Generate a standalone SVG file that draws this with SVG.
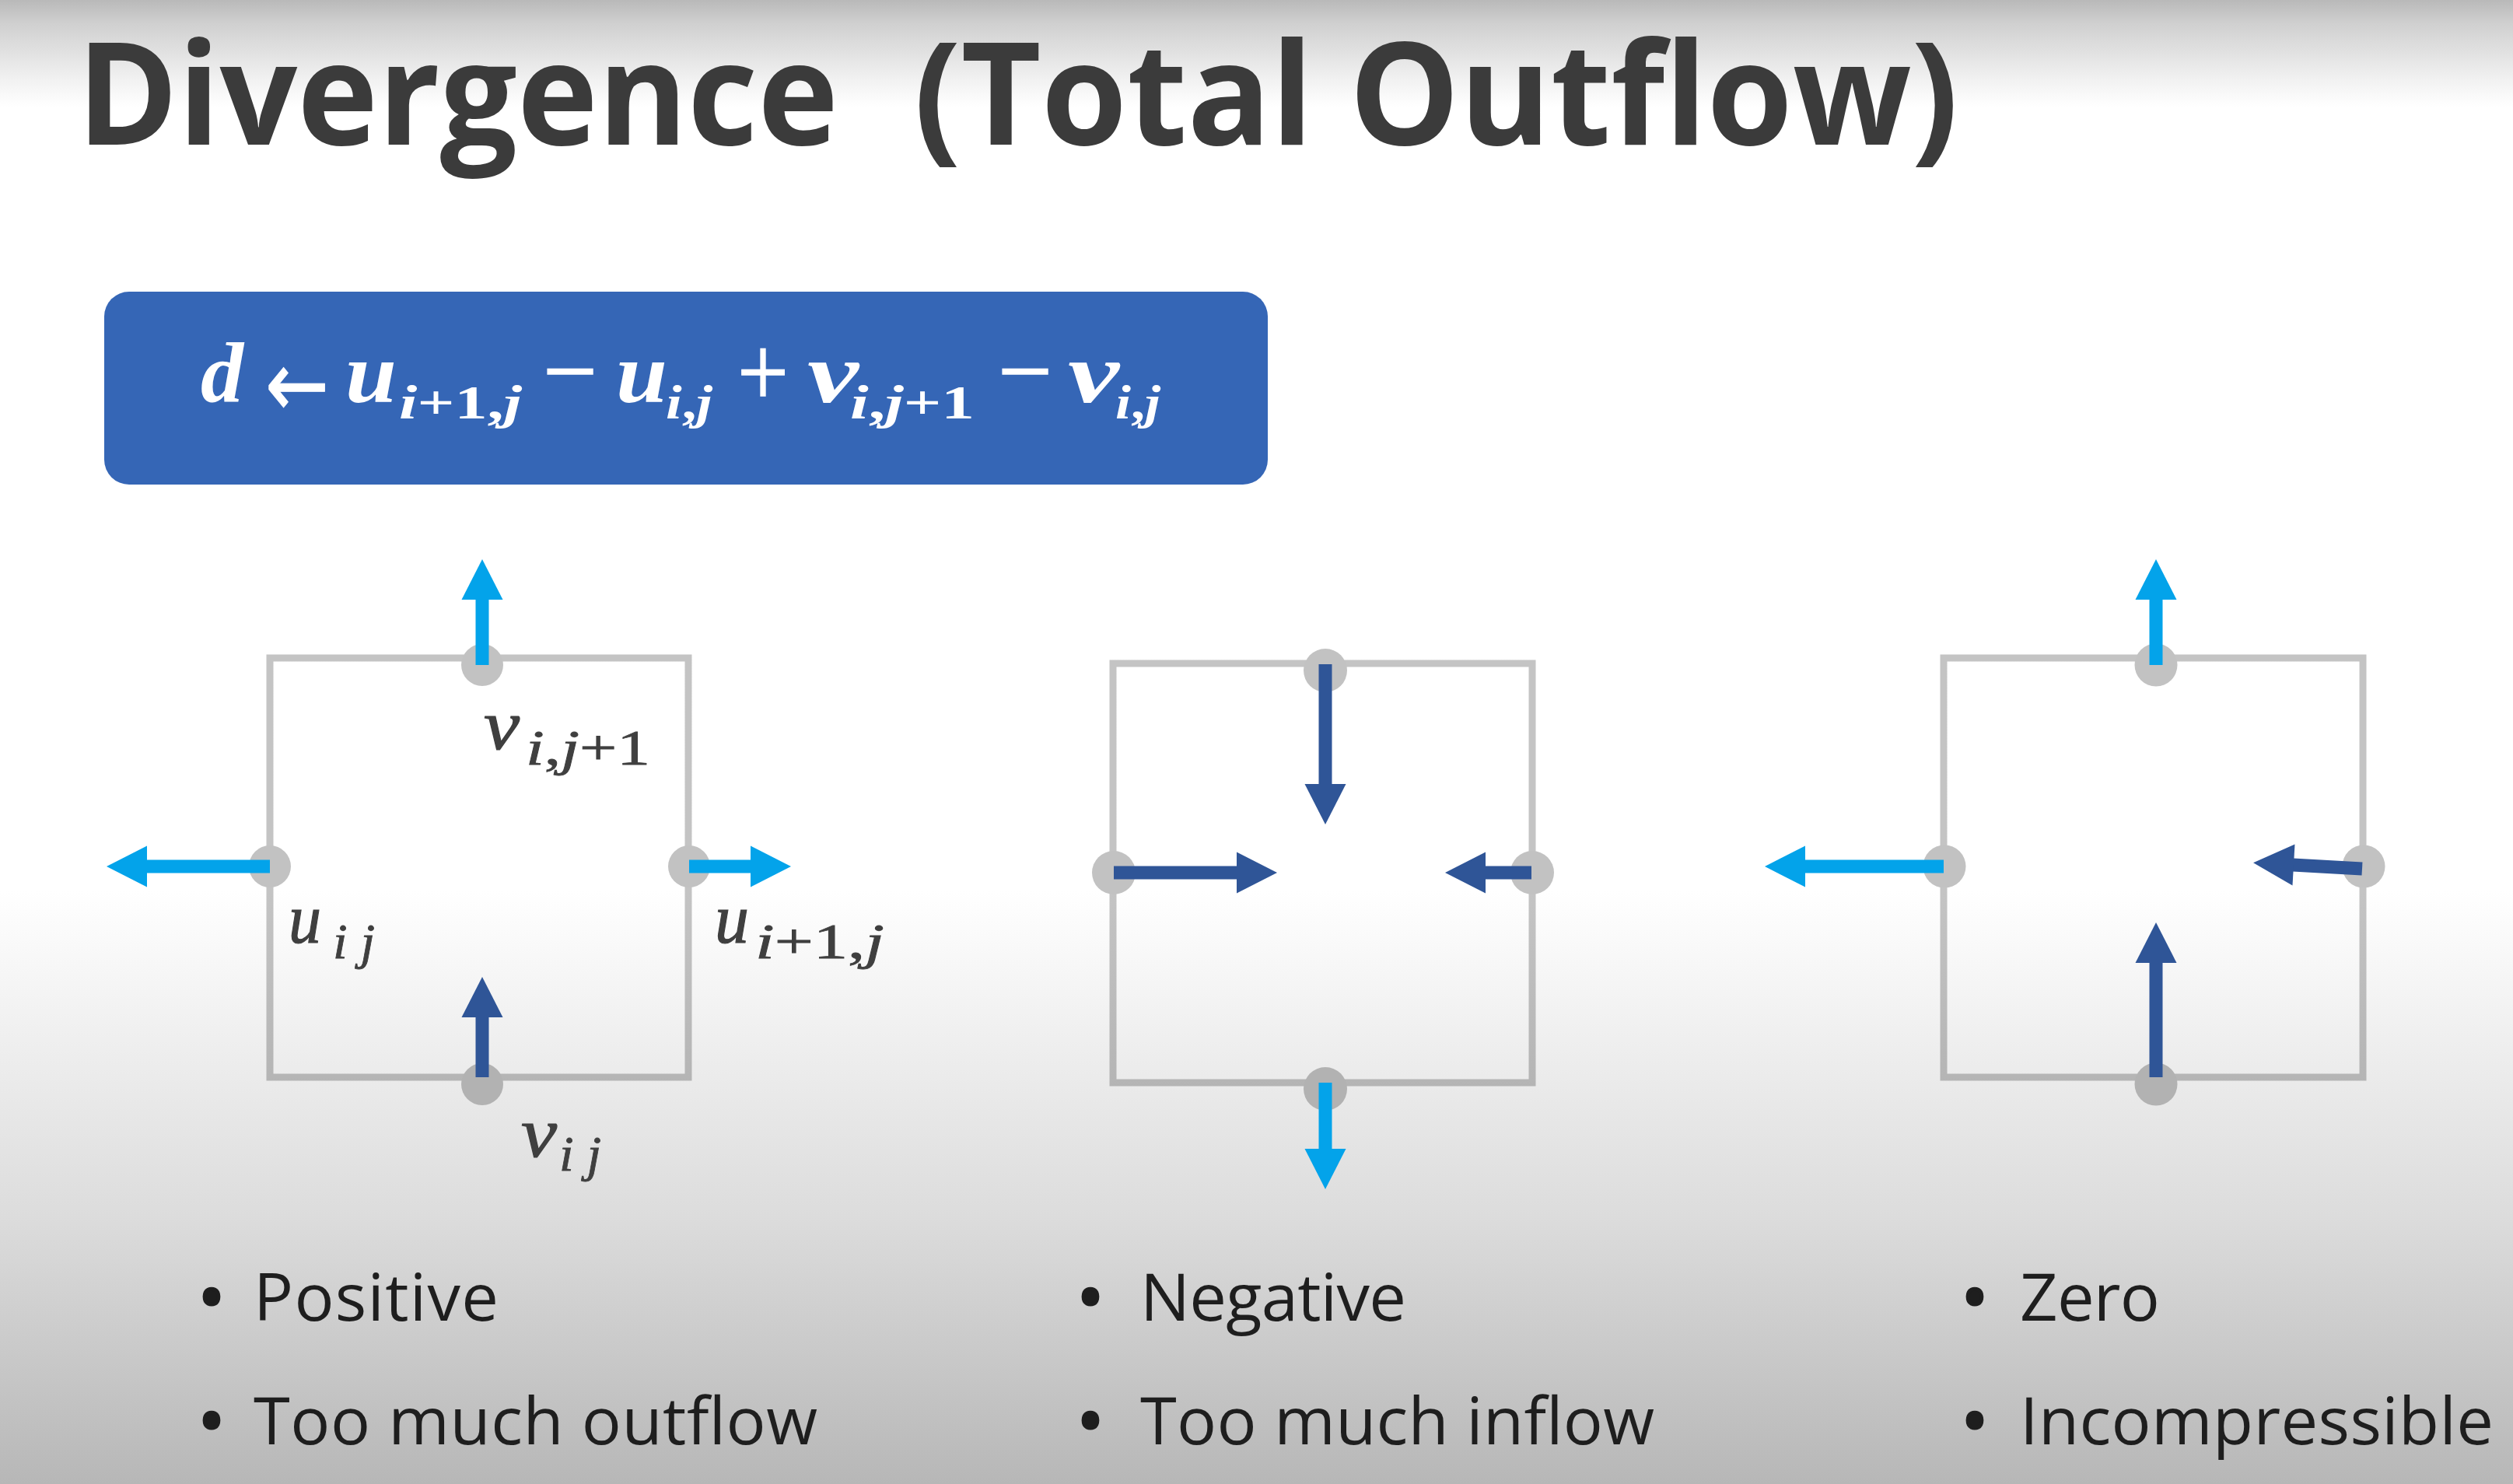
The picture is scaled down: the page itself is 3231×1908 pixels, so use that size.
<svg xmlns="http://www.w3.org/2000/svg" width="3231" height="1908" viewBox="0 0 3231 1908">
<defs>
<linearGradient id="bg" x1="0" y1="0" x2="0" y2="1908" gradientUnits="userSpaceOnUse">
<stop offset="0" stop-color="#b9b9b9"/>
<stop offset="0.016" stop-color="#d0d0d0"/>
<stop offset="0.052" stop-color="#f0f0f0"/>
<stop offset="0.072" stop-color="#ffffff"/>
<stop offset="0.6" stop-color="#ffffff"/>
<stop offset="0.82" stop-color="#dcdcdc"/>
<stop offset="1" stop-color="#b7b7b7"/>
</linearGradient>
<linearGradient id="edge" x1="0" y1="840" x2="0" y2="1400" gradientUnits="userSpaceOnUse">
<stop offset="0" stop-color="#c4c4c4"/>
<stop offset="0.55" stop-color="#c4c4c4"/>
<stop offset="1" stop-color="#b4b4b4"/>
</linearGradient>
<marker id="hl" markerUnits="userSpaceOnUse" markerWidth="60" markerHeight="60" viewBox="0 -30 60 60" refX="1" refY="0" orient="auto" overflow="visible">
<path d="M0,-26.5 L52,0 L0,26.5 Z" fill="#03a3ea"/>
</marker>
<marker id="hd" markerUnits="userSpaceOnUse" markerWidth="60" markerHeight="60" viewBox="0 -30 60 60" refX="1" refY="0" orient="auto" overflow="visible">
<path d="M0,-26.5 L52,0 L0,26.5 Z" fill="#2f5597"/>
</marker>
</defs>
<style>
.title{font-family:"Open Sans","Noto Sans",sans-serif;font-weight:700;font-size:183px;fill:#3b3b3b}
.m{font-family:"Liberation Serif",serif;font-style:italic;font-weight:700;font-size:110px;fill:#ffffff}
.ms{font-family:"Liberation Serif",serif;font-style:italic;font-weight:700;font-size:62px;fill:#ffffff}
.opn{font-style:normal}
.op{font-family:"Liberation Serif",serif;font-size:130px;fill:#ffffff;stroke:#ffffff;stroke-width:1.5}
.arr{font-family:"DejaVu Sans",sans-serif;font-size:120px;fill:#ffffff;stroke:#ffffff;stroke-width:1}
.l{font-family:"Liberation Serif",serif;font-style:italic;font-size:92px;fill:#3f3f3f;stroke:#3f3f3f;stroke-width:1.2}
.ls{font-family:"Liberation Serif",serif;font-style:italic;font-size:64px;fill:#3f3f3f;stroke:#3f3f3f;stroke-width:0.8}
.b{font-family:"Open Sans","Noto Sans",sans-serif;font-size:85px;fill:#1e1e1e}
.bul{font-family:"Open Sans","Noto Sans",sans-serif;font-size:85px;fill:#1e1e1e;stroke:#1e1e1e;stroke-width:5}
.cell{fill:none;stroke:url(#edge);stroke-width:9}
.dot{fill:#c2c2c2}
.dotb{fill:#b2b2b2}
.al{stroke:#03a3ea;stroke-width:17;fill:none;marker-end:url(#hl)}
.ad{stroke:#2f5597;stroke-width:17;fill:none;marker-end:url(#hd)}
</style>
<rect x="0" y="0" width="3231" height="1908" fill="url(#bg)"/>

<g id="title">
<text class="title" x="99" y="186" textLength="979" lengthAdjust="spacingAndGlyphs">Divergence</text>
<text class="title" x="1175" y="186" textLength="1343" lengthAdjust="spacingAndGlyphs">(Total Outflow)</text>
</g>

<g id="formula">
<rect x="134" y="375" width="1496" height="248" rx="32" ry="32" fill="#3566b6"/>
<text class="m" x="258" y="517" textLength="55" lengthAdjust="spacingAndGlyphs">d</text>
<text class="arr" x="341" y="536" textLength="82" lengthAdjust="spacingAndGlyphs">←</text>
<text class="m" x="444" y="517" textLength="66" lengthAdjust="spacingAndGlyphs">u</text>
<text class="ms" x="513" y="538" textLength="158" lengthAdjust="spacingAndGlyphs">i<tspan class="opn">+1,</tspan>j</text>
<text class="op" x="698" y="521" textLength="70" lengthAdjust="spacingAndGlyphs">−</text>
<text class="m" x="792" y="517" textLength="66" lengthAdjust="spacingAndGlyphs">u</text>
<text class="ms" x="856" y="538" textLength="60" lengthAdjust="spacingAndGlyphs">i<tspan class="opn">,</tspan>j</text>
<text class="op" x="948" y="522" textLength="66" lengthAdjust="spacingAndGlyphs">+</text>
<text class="m" x="1038" y="517" textLength="66" lengthAdjust="spacingAndGlyphs">v</text>
<text class="ms" x="1093" y="538" textLength="160" lengthAdjust="spacingAndGlyphs">i<tspan class="opn">,</tspan>j<tspan class="opn">+1</tspan></text>
<text class="op" x="1283" y="521" textLength="70" lengthAdjust="spacingAndGlyphs">−</text>
<text class="m" x="1373" y="517" textLength="66" lengthAdjust="spacingAndGlyphs">v</text>
<text class="ms" x="1434" y="538" textLength="58" lengthAdjust="spacingAndGlyphs">i<tspan class="opn">,</tspan>j</text>
</g>

<g id="cell-positive">
<rect class="cell" x="347" y="846" width="538" height="539"/>
<circle class="dot" cx="620" cy="855" r="27"/>
<circle class="dot" cx="347" cy="1114" r="27"/>
<circle class="dot" cx="886" cy="1114" r="27"/>
<circle class="dotb" cx="620" cy="1394" r="27"/>
<text class="l" x="622" y="963" textLength="46" lengthAdjust="spacingAndGlyphs">v</text>
<text class="ls" x="676" y="983" textLength="160" lengthAdjust="spacingAndGlyphs">i<tspan class="opn">,</tspan>j<tspan class="opn">+1</tspan></text>
<text class="l" x="371" y="1212" textLength="42" lengthAdjust="spacingAndGlyphs">u</text>
<text class="ls" x="428" y="1232" textLength="54" lengthAdjust="spacingAndGlyphs">i j</text>
<text class="l" x="919" y="1212" textLength="44" lengthAdjust="spacingAndGlyphs">u</text>
<text class="ls" x="971" y="1232" textLength="166" lengthAdjust="spacingAndGlyphs">i<tspan class="opn">+1,</tspan>j</text>
<text class="l" x="670" y="1487" textLength="46" lengthAdjust="spacingAndGlyphs">v</text>
<text class="ls" x="719" y="1505" textLength="54" lengthAdjust="spacingAndGlyphs">i j</text>
</g>

<g id="cell-negative">
<rect class="cell" x="1431" y="853" width="539" height="539"/>
<circle class="dot" cx="1704" cy="862" r="28"/>
<circle class="dot" cx="1432" cy="1122" r="28"/>
<circle class="dot" cx="1970" cy="1122" r="28"/>
<circle class="dotb" cx="1704" cy="1400" r="28"/>
</g>

<g id="cell-zero">
<rect class="cell" x="2499" y="846" width="539" height="539"/>
<circle class="dot" cx="2772" cy="855" r="27.5"/>
<circle class="dot" cx="2500" cy="1114" r="27.5"/>
<circle class="dot" cx="3039" cy="1114" r="27.5"/>
<circle class="dotb" cx="2772" cy="1394" r="27.5"/>
</g>

<g id="connectors">
<line class="al" x1="620" y1="855" x2="620" y2="770"/>
<line class="al" x1="347" y1="1114" x2="188" y2="1114"/>
<line class="al" x1="886" y1="1114" x2="966" y2="1114"/>
<line class="ad" x1="620" y1="1385" x2="620" y2="1307"/>

<line class="ad" x1="1704" y1="854" x2="1704" y2="1009"/>
<line class="ad" x1="1432" y1="1122" x2="1591" y2="1122"/>
<line class="ad" x1="1969" y1="1122" x2="1909" y2="1122"/>
<line class="al" x1="1704" y1="1392" x2="1704" y2="1478"/>

<line class="al" x1="2772" y1="855" x2="2772" y2="770"/>
<line class="al" x1="2499" y1="1114" x2="2320" y2="1114"/>
<line class="ad" x1="3037" y1="1117" x2="2948" y2="1112"/>
<line class="ad" x1="2772" y1="1385" x2="2772" y2="1237"/>
</g>

<g id="labels">
<text class="bul" x="256" y="1698">•</text>
<text class="b" x="326" y="1698" textLength="315">Positive</text>
<text class="bul" x="256" y="1857">•</text>
<text class="b" x="326" y="1857" textLength="725">Too much outflow</text>
<text class="bul" x="1386" y="1698">•</text>
<text class="b" x="1466" y="1698" textLength="342">Negative</text>
<text class="bul" x="1386" y="1857">•</text>
<text class="b" x="1466" y="1857" textLength="661">Too much inflow</text>
<text class="bul" x="2523" y="1698">•</text>
<text class="b" x="2597" y="1698" textLength="180">Zero</text>
<text class="bul" x="2523" y="1857">•</text>
<text class="b" x="2597" y="1857" textLength="609">Incompressible</text>
</g>
</svg>
